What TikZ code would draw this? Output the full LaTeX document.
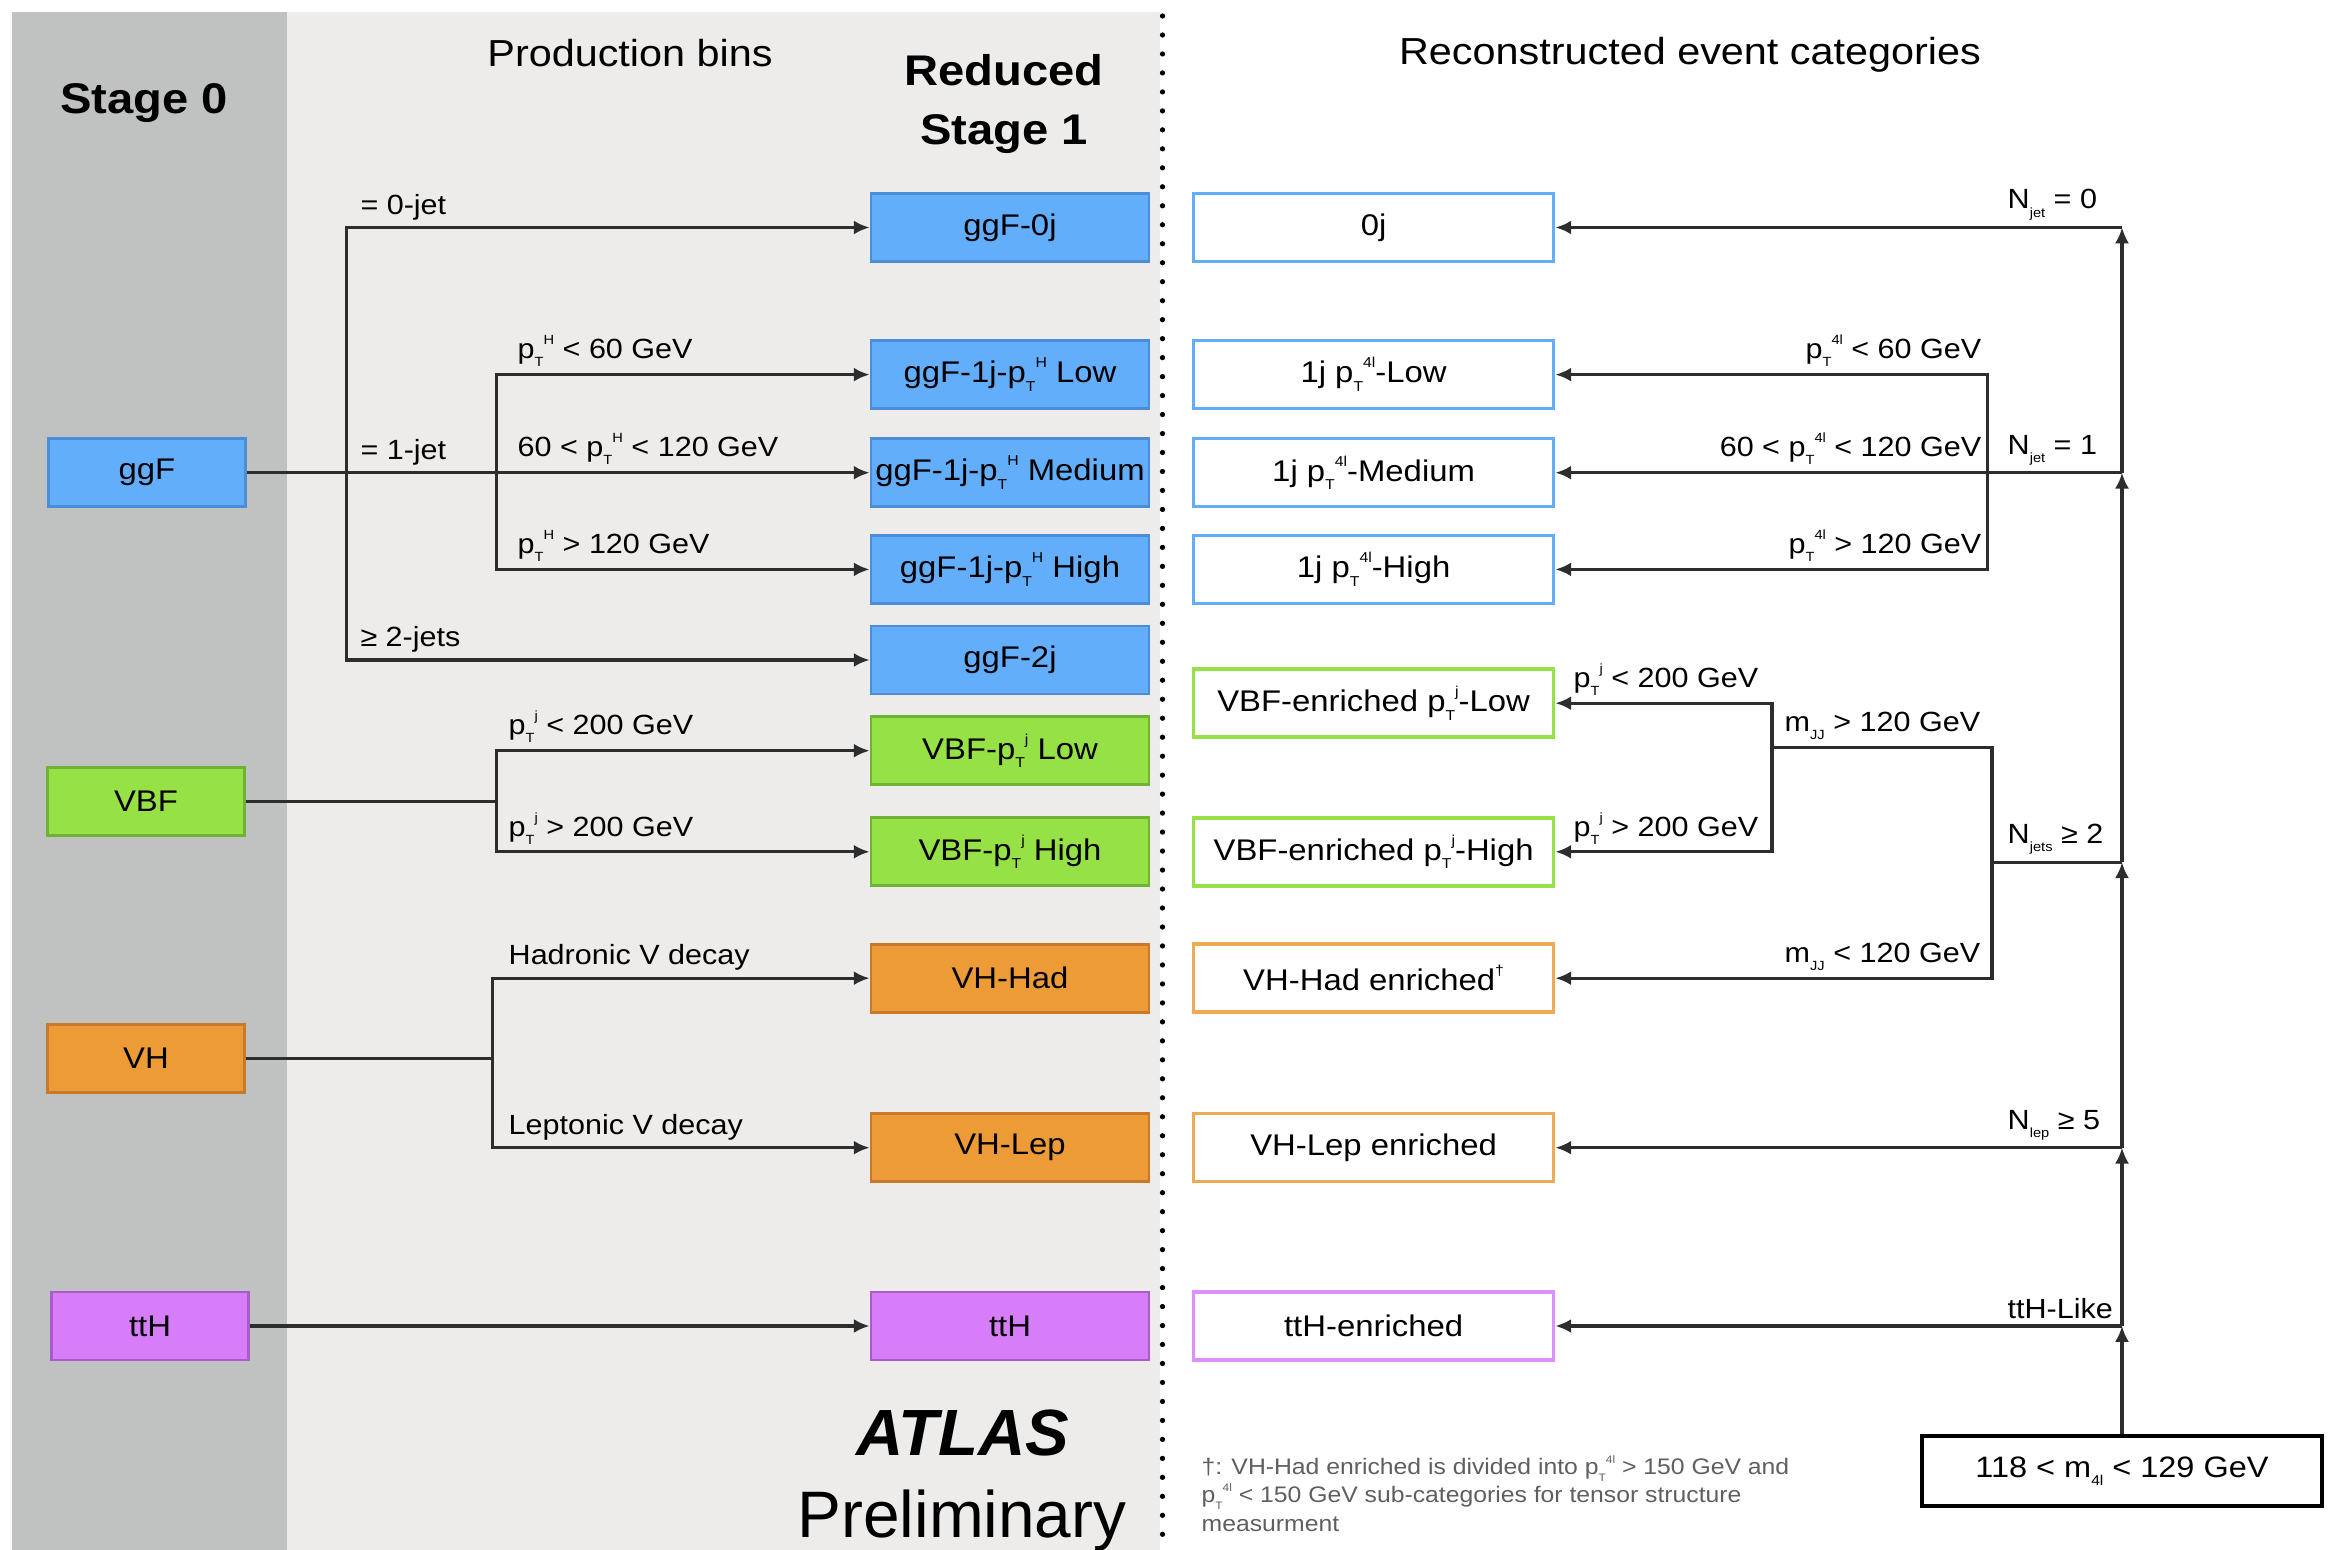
\documentclass[tikz,border=0pt]{standalone}
\usepackage{fontspec}
\setmainfont[FakeStretch=1.1]{Liberation Sans}
\newfontfamily\atlasfont{Liberation Sans}
\usepackage{graphicx}
\usepackage{xcolor}
\usetikzlibrary{arrows.meta}
\definecolor{stagec}{RGB}{192,194,193}
\definecolor{binc}{RGB}{237,236,235}
\definecolor{ggfc}{RGB}{99,174,250}
\definecolor{ggfd}{RGB}{74,142,218}
\definecolor{vbfc}{RGB}{150,225,70}
\definecolor{vbfd}{RGB}{112,178,52}
\definecolor{vhc}{RGB}{236,155,55}
\definecolor{vhd}{RGB}{198,122,42}
\definecolor{tthc}{RGB}{215,125,250}
\definecolor{tthd}{RGB}{168,92,200}
\definecolor{linec}{RGB}{45,45,45}
\definecolor{notec}{RGB}{95,95,95}
\newcommand{\lowtxt}[1]{\raisebox{-0.55ex}{\scalebox{0.48}{#1}}}
\newcommand{\hightxt}[1]{\raisebox{0.95ex}{\scalebox{0.48}{#1}}}
\newcommand{\ptsym}[1]{p\lowtxt{T}\hightxt{#1}}
\newcommand{\boxfont}{\fontsize{8.5pt}{10pt}\selectfont}
\newcommand{\condfont}{\fontsize{7.9pt}{9pt}\selectfont}
\tikzset{
  stagebox/.style={draw, line width=0.8pt, minimum width=1.97cm, minimum height=0.68cm, inner sep=0pt, font=\boxfont},
  prodbox/.style={stagebox, minimum width=2.78cm},
  catbox/.style={draw, line width=1pt, fill=white, minimum width=3.6cm, minimum height=0.68cm, inner sep=0pt, font=\boxfont},
  ggf/.style={fill=ggfc, draw=ggfd},
  vbf/.style={fill=vbfc, draw=vbfd},
  vh/.style={fill=vhc, draw=vhd},
  tth/.style={fill=tthc, draw=tthd},
  masswin/.style={draw=black, line width=1.3pt, minimum width=4.0cm, minimum height=0.70cm, inner sep=0pt, font=\fontsize{8.4pt}{10pt}\selectfont},
  link/.style={line width=0.9pt, linec},
  flow/.style={link, -{Latex[length=4.5pt, width=4pt]}},
  lcond/.style={font=\condfont, inner xsep=0pt, inner ysep=2pt, anchor=south west},
  rcond/.style={font=\condfont, inner xsep=0pt, inner ysep=2pt, anchor=south east},
  headtxt/.style={font=\fontsize{12.2pt}{16.9pt}\selectfont\bfseries, align=center},
  titletxt/.style={font=\fontsize{10.7pt}{12pt}\selectfont},
  sepline/.style={line width=1.5pt, dash pattern=on 0pt off 5.4pt, line cap=round}
}

\begin{document}
\begin{tikzpicture}
  \useasboundingbox (0,0) rectangle (23.31,-15.50);
  \fill[stagec] (0.12,-0.12) rectangle (2.87,-15.50);
  \fill[binc] (2.87,-0.12) rectangle (11.60,-15.50);
  \draw[sepline] (11.625,-0.16) -- (11.625,-15.50);

  \node[headtxt] (stage0) at (1.44,-1.03) {Stage 0};
  \node[titletxt] (bins) at (6.30,-0.53) {Production bins};
  \node[headtxt] (stage1) at (10.04,-1.04) {Reduced\\Stage 1};
  \node[titletxt] (recocat) at (16.90,-0.55) {Reconstructed event categories};

  \node[stagebox, ggf] (s0ggf) at (1.47,-4.727) {ggF};
  \node[stagebox, vbf] (s0vbf) at (1.46,-8.013) {VBF};
  \node[stagebox, vh] (s0vh) at (1.46,-10.585) {VH};
  \node[stagebox, tth] (s0tth) at (1.50,-13.260) {ttH};

  \newcommand{\prodrow}[4]{
    \node[prodbox, #1] (#2) at (10.10,#3) {#4};
  }
  \prodrow{ggf}{p0j}{-2.275}{ggF-0j}
  \prodrow{ggf}{p1l}{-3.746}{ggF-1j-\ptsym{H} Low}
  \prodrow{ggf}{p1m}{-4.727}{ggF-1j-\ptsym{H} Medium}
  \prodrow{ggf}{p1h}{-5.694}{ggF-1j-\ptsym{H} High}
  \prodrow{ggf}{p2j}{-6.600}{ggF-2j}
  \prodrow{vbf}{pvbfl}{-7.507}{VBF-\ptsym{j} Low}
  \prodrow{vbf}{pvbfh}{-8.518}{VBF-\ptsym{j} High}
  \prodrow{vh}{pvhh}{-9.782}{VH-Had}
  \prodrow{vh}{pvhl}{-11.477}{VH-Lep}
  \prodrow{tth}{ptth}{-13.260}{ttH}

  \newcommand{\catrow}[4]{
    \node[catbox, draw=#1] (#2) at (13.736,#3) {#4};
  }
  \catrow{ggfc}{c0j}{-2.275}{0j}
  \catrow{ggfc}{c1l}{-3.746}{1j \ptsym{4l}-Low}
  \catrow{ggfc}{c1m}{-4.727}{1j \ptsym{4l}-Medium}
  \catrow{ggfc}{c1h}{-5.694}{1j \ptsym{4l}-High}
  \catrow{vbfc}{cvbfl}{-7.032}{VBF-enriched \ptsym{j}-Low}
  \catrow{vbfc}{cvbfh}{-8.518}{VBF-enriched \ptsym{j}-High}
  \catrow{vhc!85!white}{cvhh}{-9.782}{VH-Had enriched\hightxt{†}}
  \catrow{vhc!85!white}{cvhl}{-11.477}{VH-Lep enriched}
  \catrow{tthc!85!white}{ctth}{-13.260}{ttH-enriched}

  \node[masswin] (mwin) at (21.22,-14.71) {118 < m\lowtxt{4l} < 129 GeV};

  \coordinate (jA) at (3.464,-4.727);
  \coordinate (jB) at (4.965,-4.727);
  \coordinate (jC) at (4.965,-8.013);
  \coordinate (jD) at (4.921,-10.585);
  \coordinate (t0) at (21.22,-2.275);
  \coordinate (t1) at (21.22,-4.727);
  \coordinate (t2) at (21.22,-8.622);
  \coordinate (t3) at (21.22,-11.477);
  \coordinate (t4) at (21.22,-13.260);
  \coordinate (jE) at (19.876,-4.727);
  \coordinate (jF) at (19.92,-8.622);
  \coordinate (jG) at (17.72,-7.478);

  \draw[flow] (s0ggf) -- (p1m);
  \draw[flow] (jA) |- (p0j);
  \draw[flow] (jA) |- (p2j);
  \draw[flow] (jB) |- (p1l);
  \draw[flow] (jB) |- (p1h);
  \draw[link] (s0vbf) -- (jC);
  \draw[flow] (jC) |- (pvbfl);
  \draw[flow] (jC) |- (pvbfh);
  \draw[link] (s0vh) -- (jD);
  \draw[flow] (jD) |- (pvhh);
  \draw[flow] (jD) |- (pvhl);
  \draw[flow] (s0tth) -- (ptth);

  \draw[flow] (mwin) -- (t4);
  \draw[flow] (t4) -- (t3);
  \draw[flow] (t3) -- (t2);
  \draw[flow] (t2) -- (t1);
  \draw[flow] (t1) -- (t0);
  \draw[flow] (t0) -- (c0j);
  \draw[flow] (t1) -- (c1m);
  \draw[flow] (jE) |- (c1l);
  \draw[flow] (jE) |- (c1h);
  \draw[link] (t2) -- (jF);
  \draw[link] (jF) |- (jG);
  \draw[flow] (jF) |- (cvhh);
  \draw[flow] (jG) |- (cvbfl);
  \draw[flow] (jG) |- (cvbfh);
  \draw[flow] (t3) -- (cvhl);
  \draw[flow] (t4) -- (ctth);

  \node[lcond] (l0jet) at (3.598,-2.275) {= 0-jet};
  \node[lcond] (l1jet) at (3.598,-4.727) {= 1-jet};
  \node[lcond] (l2jet) at (3.598,-6.600) {≥ 2-jets};
  \node[lcond] (lpth1) at (5.17,-3.746) {\ptsym{H} < 60 GeV};
  \node[lcond] (lpth2) at (5.17,-4.727) {60 < \ptsym{H} < 120 GeV};
  \node[lcond] (lpth3) at (5.17,-5.694) {\ptsym{H} > 120 GeV};
  \node[lcond] (lptj1) at (5.08,-7.507) {\ptsym{j} < 200 GeV};
  \node[lcond] (lptj2) at (5.08,-8.518) {\ptsym{j} > 200 GeV};
  \node[lcond] (lhad) at (5.08,-9.782) {Hadronic V decay};
  \node[lcond] (llep) at (5.08,-11.477) {Leptonic V decay};

  \node[lcond] (rnj0) at (20.07,-2.275) {N\lowtxt{jet} = 0};
  \node[rcond] (rpt1) at (19.82,-3.746) {\ptsym{4l} < 60 GeV};
  \node[rcond] (rpt2) at (19.82,-4.727) {60 < \ptsym{4l} < 120 GeV};
  \node[rcond] (rpt3) at (19.82,-5.694) {\ptsym{4l} > 120 GeV};
  \node[lcond] (rnj1) at (20.07,-4.727) {N\lowtxt{jet} = 1};
  \node[lcond] (rptj1) at (15.73,-7.032) {\ptsym{j} < 200 GeV};
  \node[lcond] (rptj2) at (15.73,-8.518) {\ptsym{j} > 200 GeV};
  \node[lcond] (rmjj1) at (17.84,-7.478) {m\lowtxt{JJ} > 120 GeV};
  \node[lcond] (rmjj2) at (17.84,-9.782) {m\lowtxt{JJ} < 120 GeV};
  \node[lcond] (rnj2) at (20.07,-8.622) {N\lowtxt{jets} ≥ 2};
  \node[lcond] (rnlep) at (20.07,-11.477) {N\lowtxt{lep} ≥ 5};
  \node[lcond] (rtth) at (20.07,-13.260) {ttH-Like};

  \node[anchor=north west, align=left, inner sep=0pt, text=notec, font=\fontsize{6.4pt}{8pt}\selectfont] (fnote) at (12.01,-14.55) {†: VH-Had enriched is divided into \ptsym{4l} > 150 GeV and\\\ptsym{4l} < 150 GeV sub-categories for tensor structure\\measurment};

  \node[anchor=base, font=\atlasfont\fontsize{18.6pt}{20pt}\selectfont\bfseries\itshape] (atlas) at (9.63,-14.55) {ATLAS};
  \node[anchor=base, font=\atlasfont\fontsize{18.7pt}{20pt}\selectfont] (prelim) at (9.62,-15.37) {Preliminary};
\end{tikzpicture}
\end{document}
